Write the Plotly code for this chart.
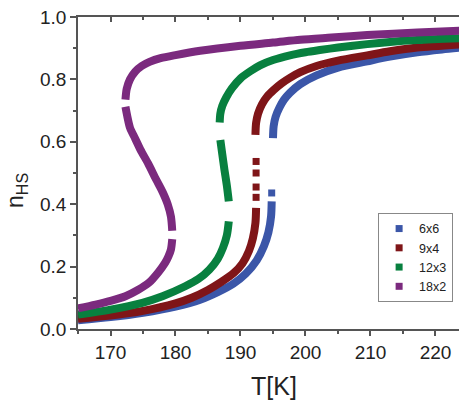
import plotly.graph_objects as go

# ---- data (T in K, n_HS), None separates branches ----
labels = ["6x6", "9x4", "12x3", "18x2"]
colors = ["#3b56a8", "#7f1518", "#08803f", "#7b2a7e"]

blue_T = [165.0, 170.0, 175.0, 180.0, 183.8, 186.5, 188.9, 190.8, 192.5, 193.6, 194.3, 194.7, 194.8,
          None,
          195.0, 195.1, 195.4, 196.0, 196.7, 197.6, 199.2, 201.7, 205.0, 209.5, 213.0, 217.2, 221.0, 225.0]
blue_n = [0.028, 0.038, 0.052, 0.072, 0.094, 0.118, 0.145, 0.177, 0.22, 0.265, 0.31, 0.36, 0.409,
          None,
          0.612, 0.65, 0.68, 0.71, 0.735, 0.757, 0.785, 0.813, 0.838, 0.858, 0.873, 0.887, 0.896, 0.904]
blue_dot_T = [194.8]
blue_dot_n = [0.436]

red_T = [165.0, 170.0, 175.0, 180.0, 182.5, 185.0, 187.0, 189.0, 190.3, 191.3, 191.9, 192.3, 192.4,
         None,
         192.3, 192.4, 192.7, 193.3, 194.1, 195.1, 196.3, 197.6, 199.2, 201.7, 205.0, 209.5, 213.0,
         217.2, 225.0]
red_n = [0.033, 0.043, 0.058, 0.082, 0.100, 0.125, 0.150, 0.18, 0.21, 0.25, 0.29, 0.34, 0.388,
         None,
         0.622, 0.66, 0.69, 0.72, 0.745, 0.766, 0.787, 0.805, 0.823, 0.843, 0.86, 0.877, 0.89,
         0.902, 0.914]
red_dot_T = [192.4, 192.4, 192.4, 192.4]
red_dot_n = [0.537, 0.50, 0.455, 0.422]

green_T = [165.0, 170.0, 174.9, 178.0, 181.5, 183.5, 185.2, 186.5, 187.3, 187.9, 188.2,
           None,
           188.2, 187.9, 187.5, 187.2, 186.9,
           None,
           186.8, 186.9, 187.2, 187.8, 188.7, 190.0, 191.5, 193.0, 195.0, 197.6, 200.0, 202.2, 205.0,
           209.5, 213.0, 217.2, 225.0]
green_n = [0.046, 0.062, 0.084, 0.105, 0.137, 0.16, 0.19, 0.225, 0.26, 0.30, 0.345,
           None,
           0.409, 0.46, 0.515, 0.56, 0.606,
           None,
           0.662, 0.69, 0.715, 0.742, 0.772, 0.803, 0.826, 0.845, 0.862, 0.877, 0.887, 0.894, 0.902,
           0.913, 0.92, 0.926, 0.933]

purple_T = [165.0, 167.7, 170.0, 172.3, 174.2, 175.9, 177.4, 178.4, 178.9, 179.3, 179.5,
            None,
            179.5, 179.3, 178.8, 178.0, 177.0, 175.8, 174.6, 173.8, 173.0, 172.6, 172.3,
            None,
            172.3, 172.5, 173.0, 173.8, 174.8, 176.0, 177.7, 180.0, 183.8, 190.0, 195.0, 199.2, 204.0,
            209.5, 217.2, 225.0]
purple_n = [0.066, 0.078, 0.090, 0.105, 0.125, 0.148, 0.183, 0.212, 0.232, 0.255, 0.288,
            None,
            0.315, 0.36, 0.40, 0.44, 0.48, 0.53, 0.575, 0.61, 0.645, 0.68, 0.712,
            None,
            0.735, 0.77, 0.80, 0.825, 0.843, 0.856, 0.868, 0.878, 0.892, 0.908, 0.918, 0.927, 0.934,
            0.942, 0.950, 0.957]

x_ticks = [170, 180, 190, 200, 210, 220]
y_ticks = [0.0, 0.2, 0.4, 0.6, 0.8, 1.0]
y_ticklabels = ["0.0", "0.2", "0.4", "0.6", "0.8", "1.0"]

FONT = "Liberation Sans, Arial, sans-serif"
AX = "#555555"
TXT = "#222222"
LW = 8

fig = go.Figure()

series = [(blue_T, blue_n), (red_T, red_n), (green_T, green_n), (purple_T, purple_n)]
for (t, n), c in zip(series, colors):
    fig.add_trace(go.Scatter(x=t, y=n, mode="lines", line=dict(color=c, width=LW, shape="spline", smoothing=0.8),
                             connectgaps=False, showlegend=False, hoverinfo="skip"))

fig.add_trace(go.Scatter(x=blue_dot_T, y=blue_dot_n, mode="markers",
                         marker=dict(symbol="square", size=7, color=colors[0]), showlegend=False))
fig.add_trace(go.Scatter(x=red_dot_T, y=red_dot_n, mode="markers",
                         marker=dict(symbol="square", size=7, color=colors[1]), showlegend=False))

# legend entries
for lab, c in zip(labels, colors):
    fig.add_trace(go.Scatter(x=[None], y=[None], mode="markers", name=lab,
                             marker=dict(symbol="square", size=7, color=c)))

# dummy trace for mirror axes
fig.add_trace(go.Scatter(x=[None], y=[None], xaxis="x2", yaxis="y2", showlegend=False, mode="markers"))

xr = [165, 224.85]
yr = [0, 1.0]

# page body has an 8px default margin, so the figure is sized/offset to compensate
fig.update_layout(
    width=459, height=395,
    margin=dict(l=69.5, r=0, t=9, b=73.5, autoexpand=False),
    paper_bgcolor="white", plot_bgcolor="white",
    font=dict(family=FONT, color=TXT),
    xaxis=dict(range=xr, tickvals=x_ticks, ticks="outside", ticklen=5, tickwidth=1.5, tickcolor=AX,
               showline=True, linecolor=AX, linewidth=1.5, showgrid=False, zeroline=False, automargin=False,
               ticklabeloverflow="allow", tickfont=dict(size=19, color=TXT, family=FONT),
               minor=dict(dtick=5, tick0=165, ticks="outside", ticklen=3, tickwidth=1.5, tickcolor=AX)),
    yaxis=dict(range=yr, tickvals=y_ticks, ticktext=y_ticklabels, ticks="outside", ticklen=6, tickwidth=1.5,
               tickcolor=AX, showline=True, linecolor=AX, linewidth=1.5, showgrid=False, zeroline=False,
               automargin=False, ticklabeloverflow="allow", tickfont=dict(size=19, color=TXT, family=FONT),
               minor=dict(dtick=0.1, tick0=0, ticks="outside", ticklen=3, tickwidth=1.5, tickcolor=AX)),
    xaxis2=dict(range=xr, overlaying="x", side="top", tickvals=x_ticks, ticks="inside", ticklen=5,
                tickwidth=1.5, tickcolor=AX, showline=True, linecolor=AX, linewidth=1.5, showgrid=False,
                zeroline=False, showticklabels=False, automargin=False,
                minor=dict(dtick=5, tick0=165, ticks="inside", ticklen=3, tickwidth=1.5, tickcolor=AX)),
    yaxis2=dict(range=yr, overlaying="y", side="right", tickvals=y_ticks, ticks="inside", ticklen=5,
                tickwidth=1.5, tickcolor=AX, showline=True, linecolor=AX, linewidth=1.5, showgrid=False,
                zeroline=False, showticklabels=False, automargin=False,
                minor=dict(dtick=0.1, tick0=0, ticks="inside", ticklen=3, tickwidth=1.5, tickcolor=AX)),
    legend=dict(x=0.7715, y=0.372, xanchor="left", yanchor="top",
                bordercolor="#888888", borderwidth=1, bgcolor="white",
                font=dict(size=12.5, color=TXT, family=FONT)),
    annotations=[
        dict(text="T[K]", xref="paper", yref="paper", x=0.503, y=-0.184, xanchor="center", yanchor="middle",
             showarrow=False, font=dict(size=25, color=TXT, family=FONT)),
        dict(text="n<sub>HS</sub>", xref="paper", yref="paper", x=-0.158, y=0.444, xanchor="center",
             yanchor="middle", textangle=-90, showarrow=False, font=dict(size=23, color=TXT, family=FONT)),
    ],
)

fig.write_html("out.html")
